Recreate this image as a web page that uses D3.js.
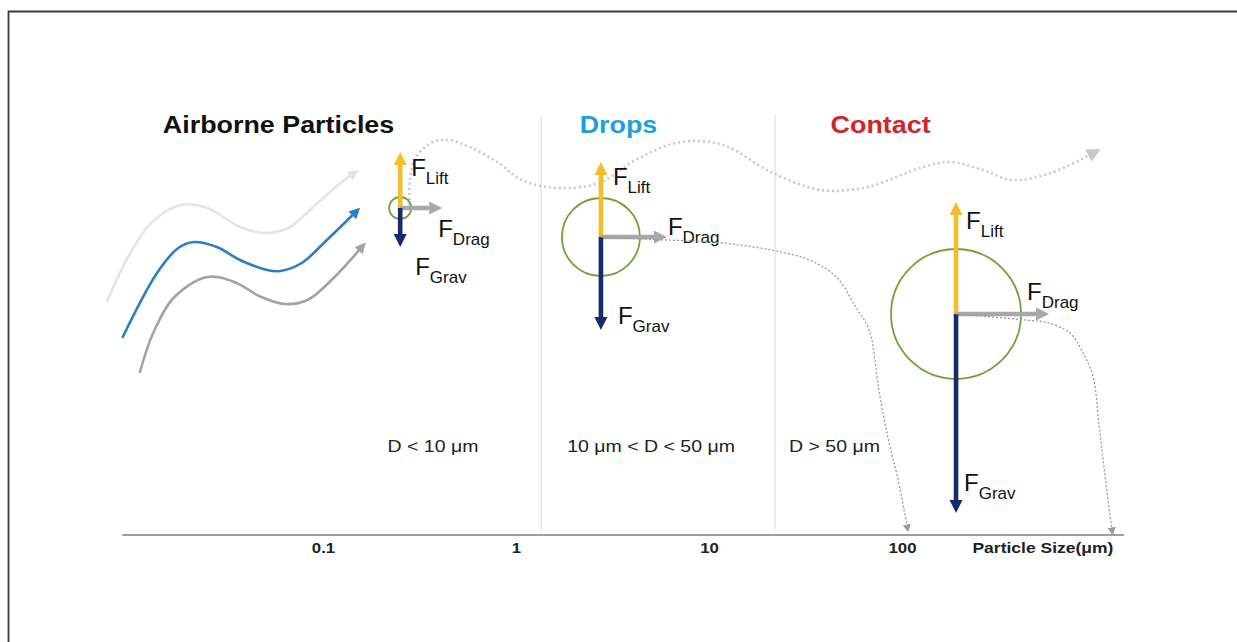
<!DOCTYPE html>
<html>
<head>
<meta charset="utf-8">
<script src="https://cdn.jsdelivr.net/npm/d3@7"></script>
<style>
  html, body { margin: 0; padding: 0; background: #fff; }
  svg { display: block; font-family: "Liberation Sans", Arial, sans-serif; }
</style>
</head>
<body>
<div id="chart"></div>
<script>
// Particle size axis (μm, log scale)
const sizeTicks = [0.1, 1, 10, 100];
const axisTitle = 'Particle Size(μm)';
const regionBounds = [1.35, 22];
const regionTitles = ['Airborne Particles', 'Drops', 'Contact'];
const regionRanges = ['D < 10 μm', '10 μm < D < 50 μm', 'D > 50 μm'];

// Particles: x as log10(size), elevation and force lengths in elevation units
const particleDecade = [-0.60, 0.44, 2.28];
const particleHeight = [32.7, 29.8, 22.1];
const particleRadius = [1.1, 3.9, 6.5];
const liftForce = [5.6, 7.5, 11.2];
const dragForce = [4.2, 6.6, 9.3];
const gravForce = [3.9, 9.3, 19.9];
const forceNames = ['Lift', 'Drag', 'Grav'];

// Incoming streamlines [log10 size, elevation]
const streamLight = [[-2.12,23.3],[-2.01,27.8],[-1.89,31.2],[-1.74,33.0],[-1.60,32.7],[-1.43,30.8],[-1.30,30.2],[-1.18,30.7],[-1.05,32.8],[-0.91,35.2],[-0.83,36.3]];
const streamBlue = [[-2.04,19.7],[-1.86,26.2],[-1.75,28.7],[-1.67,29.3],[-1.55,28.8],[-1.43,27.5],[-1.29,26.5],[-1.22,26.4],[-1.11,27.2],[-0.98,29.5],[-0.82,32.5]];
const streamGray = [[-1.95,16.2],[-1.88,20.2],[-1.77,23.8],[-1.60,25.8],[-1.46,25.3],[-1.32,23.8],[-1.20,23.1],[-1.08,23.5],[-0.94,25.8],[-0.79,29.0]];

// Trajectories
const airborneWave = [[-0.55,33.0],[-0.55,35.5],[-0.52,37.7],[-0.44,39.2],[-0.35,39.5],[-0.23,38.7],[-0.09,37.2],[0.03,35.5],[0.21,34.7],[0.43,35.2],[0.62,37.5],[0.81,39.1],[0.96,39.4],[1.10,38.8],[1.32,36.3],[1.58,34.5],[1.82,34.8],[2.11,36.8],[2.25,37.3],[2.42,36.5],[2.57,35.5],[2.77,36.2],[3.01,38.4]];
const dropsPath = [[0.44,29.8],[0.78,29.5],[1.02,29.3],[1.32,28.5],[1.52,27.5],[1.66,25.8],[1.76,22.8],[1.83,20.5],[1.88,14.5],[1.93,9.5],[1.98,5.5],[2.03,0.5]];
const contactPath = [[2.28,22.1],[2.64,21.5],[2.76,21.2],[2.87,20.2],[2.93,18.5],[2.99,15.8],[3.02,11.2],[3.05,6.2],[3.09,0.2]];

// Layout (not data)
const width = 1237, height = 642;
const font = '"Liberation Sans", Arial, sans-serif';
const titlePos = [[-1.83, 40.2], [0.33, 40.2], [1.63, 40.2]];
const titleColors = ['#111111', '#1f9fda', '#d2232a'];
const rangePos = [[-0.43, 8.3], [0.70, 8.3], [1.65, 8.3]];
const axisExtent = [-2.04, 3.15];
const labelOffsets = [
  { Lift: [11, 24], Drag: [-4, 29], Grav: [15, 28] },
  { Lift: [12, 23], Drag: [1, -2], Grav: [17, -6] },
  { Lift: [10, 27], Drag: [-22, -14], Grav: [8, -22] }
];
const forceColors = { Lift: '#f4bd2c', Drag: '#a8a8a8', Grav: '#172a6b' };

const svg = d3.select('#chart')
  .append('svg')
  .attr('width', width)
  .attr('height', height);

// Scales
const x = d3.scaleLog().domain([0.1, 100]).range([323, 902]);
const xd = d => x(Math.pow(10, d));
const y = d3.scaleLinear().domain([0, 42]).range([535, 115]);
const len = v => y(0) - y(v);

// Markers
const defs = svg.append('defs');
const addMarker = function(id, color, size) {
  defs.append('marker')
    .attr('id', id)
    .attr('viewBox', '0 0 10 10')
    .attr('refX', 7)
    .attr('refY', 5)
    .attr('markerUnits', 'userSpaceOnUse')
    .attr('markerWidth', size)
    .attr('markerHeight', size)
    .attr('orient', 'auto')
    .append('path')
    .attr('d', 'M0,0L10,5L0,10Z')
    .attr('fill', color);
};
addMarker('m-light', '#e4e4e4', 11);
addMarker('m-blue', '#2c7fc2', 11);
addMarker('m-gray', '#a3a3a3', 11);
addMarker('m-wave', '#c8c8c8', 14);
addMarker('m-fall', '#9a9a9a', 8);

// Frame
svg.append('path')
  .attr('d', `M8.5,${height}V11.5H${width}`)
  .attr('fill', 'none')
  .attr('stroke', '#3a3a3a')
  .attr('stroke-width', 1.8);

// Region separators
svg.selectAll('.sep')
  .data(regionBounds)
  .enter()
  .append('line')
  .attr('x1', d => x(d)).attr('x2', d => x(d))
  .attr('y1', y(0.5)).attr('y2', y(42))
  .attr('stroke', '#d9d9d9')
  .attr('stroke-width', 1);

// Axis baseline
svg.append('line')
  .attr('x1', xd(axisExtent[0])).attr('x2', xd(axisExtent[1]))
  .attr('y1', y(0)).attr('y2', y(0))
  .attr('stroke', '#9e9e9e')
  .attr('stroke-width', 2.2);

const axis = svg.append('g')
  .attr('transform', `translate(0,${y(0)})`)
  .call(d3.axisBottom(x).tickValues(sizeTicks).tickFormat(d3.format('')).tickSize(0).tickPadding(8));
axis.select('.domain').remove();
axis.selectAll('text')
  .attr('font-family', font)
  .attr('font-size', 14)
  .attr('font-weight', 'bold')
  .attr('fill', '#222')
  .attr('transform', 'scale(1.2,1)');

// Stretched text helper
const stretchText = function(px, py, str, size, weight, color, anchor, sx) {
  return svg.append('g')
    .attr('transform', `translate(${px},${py})`)
    .append('text')
    .attr('transform', `scale(${sx},1)`)
    .attr('font-family', font)
    .attr('font-size', size)
    .attr('font-weight', weight)
    .attr('fill', color)
    .attr('text-anchor', anchor)
    .text(str);
};

stretchText(xd(2.73), y(0) + 8 + 14 * 0.71, axisTitle, 14, 'bold', '#222', 'middle', 1.25);

regionTitles.forEach((t, i) => {
  stretchText(xd(titlePos[i][0]), y(titlePos[i][1]), t, 24, 'bold', titleColors[i], 'start', 1.12);
});

regionRanges.forEach((t, i) => {
  stretchText(xd(rangePos[i][0]), y(rangePos[i][1]), t, 16, 'normal', '#222', 'middle', 1.22);
});

// Streamlines
const line = d3.line()
  .x(d => xd(d[0]))
  .y(d => y(d[1]))
  .curve(d3.curveCatmullRom.alpha(0.5));

[[streamLight, '#e4e4e4', 'm-light'], [streamGray, '#a3a3a3', 'm-gray'], [streamBlue, '#2c7fc2', 'm-blue']]
  .forEach(([pts, color, m]) => {
    svg.append('path')
      .attr('d', line(pts))
      .attr('fill', 'none')
      .attr('stroke', color)
      .attr('stroke-width', 2.6)
      .attr('marker-end', `url(#${m})`);
  });

// Upper dotted wave
svg.append('path')
  .attr('d', line(airborneWave))
  .attr('fill', 'none')
  .attr('stroke', '#c8c8c8')
  .attr('stroke-width', 2.6)
  .attr('stroke-dasharray', '2,3')
  .attr('marker-end', 'url(#m-wave)');

// Block arrow as polygon
const arrowPath = function(x0, y0, x1, y1, w, hw, hl) {
  const dx = x1 - x0, dy = y1 - y0, L = Math.hypot(dx, dy);
  const ux = dx / L, uy = dy / L, nx = -uy, ny = ux;
  const bx = x1 - ux * hl, by = y1 - uy * hl;
  const pts = [
    [x0 + nx * w / 2, y0 + ny * w / 2],
    [bx + nx * w / 2, by + ny * w / 2],
    [bx + nx * hw / 2, by + ny * hw / 2],
    [x1, y1],
    [bx - nx * hw / 2, by - ny * hw / 2],
    [bx - nx * w / 2, by - ny * w / 2],
    [x0 - nx * w / 2, y0 - ny * w / 2]
  ];
  return 'M' + pts.map(p => p.join(',')).join('L') + 'Z';
};

// Particles and forces
particleDecade.forEach((d, i) => {
  const cx = xd(d), cy = y(particleHeight[i]);
  svg.append('circle')
    .attr('cx', cx).attr('cy', cy)
    .attr('r', len(particleRadius[i]))
    .attr('fill', 'none')
    .attr('stroke', '#76a035')
    .attr('stroke-width', 1.8);

  const tips = {
    Lift: [cx, cy - len(liftForce[i])],
    Drag: [cx + len(dragForce[i]), cy],
    Grav: [cx, cy + len(gravForce[i])]
  };

  forceNames.forEach(f => {
    svg.append('path')
      .attr('d', arrowPath(cx, cy, tips[f][0], tips[f][1], 4.6, 13, 13))
      .attr('fill', forceColors[f]);
  });

  forceNames.forEach(f => {
    const off = labelOffsets[i][f];
    const lx = f === 'Drag' ? tips[f][0] + off[0] : cx + off[0];
    const ly = f === 'Drag' ? cy + off[1] : tips[f][1] + off[1];
    const t = svg.append('text')
      .attr('x', lx).attr('y', ly)
      .attr('font-family', font)
      .attr('font-size', 24)
      .attr('fill', '#111')
      .text('F');
    t.append('tspan')
      .attr('font-size', 17)
      .attr('dy', 8)
      .text(f);
  });
});

// Falling trajectories
[dropsPath, contactPath].forEach(pts => {
  svg.append('path')
    .attr('d', line(pts))
    .attr('fill', 'none')
    .attr('stroke', '#9a9a9a')
    .attr('stroke-width', 1.3)
    .attr('stroke-dasharray', '2,2')
    .attr('marker-end', 'url(#m-fall)');
});
</script>
</body>
</html>
